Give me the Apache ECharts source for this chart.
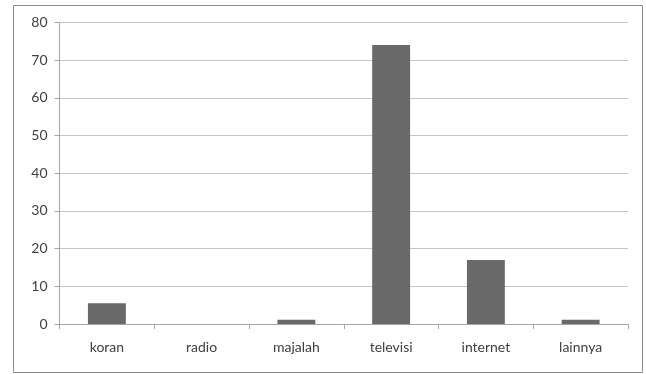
<!DOCTYPE html>
<html>
<head>
<meta charset="utf-8">
<script src="https://cdn.jsdelivr.net/npm/echarts@6/dist/echarts.min.js"></script>
<style>
  html, body { margin: 0; padding: 0; background: #ffffff; }
  #chart { width: 646px; height: 374px; }
</style>
</head>
<body>
<div id="chart"></div>
<script>
// Media categories and their percentages
var categories = ['koran', 'radio', 'majalah', 'televisi', 'internet', 'lainnya'];
var values = [5.5, 0, 1.1, 74.0, 17.0, 1.1];
var yTicks = { min: 0, max: 80, interval: 10 };

var chart = echarts.init(document.getElementById('chart'), null, { renderer: 'canvas' });

var textStyle = { color: '#404040', fontFamily: 'Lato, "Open Sans", sans-serif', fontSize: 14 };

chart.setOption({
  animation: false,
  backgroundColor: '#ffffff',
  graphic: [{
    type: 'rect',
    shape: { x: 13.5, y: 5.5, width: 629, height: 367 },
    style: { fill: 'none', stroke: '#8c8c8c', lineWidth: 1 },
    z: 0
  }],
  grid: { left: 59.5, right: 18, top: 22.5, bottom: 50, containLabel: false },
  xAxis: {
    type: 'category',
    data: categories,
    boundaryGap: true,
    axisLine: { lineStyle: { color: '#a6a6a6', width: 1 } },
    axisTick: { show: true, length: 5, lineStyle: { color: '#a6a6a6' } },
    axisLabel: Object.assign({ margin: 16 }, textStyle),
    splitLine: { show: false }
  },
  yAxis: {
    type: 'value',
    min: yTicks.min,
    max: yTicks.max,
    interval: yTicks.interval,
    axisLine: { show: true, lineStyle: { color: '#a6a6a6', width: 1 } },
    axisTick: { show: true, length: 5, lineStyle: { color: '#a6a6a6' } },
    axisLabel: Object.assign({ margin: 12 }, textStyle),
    splitLine: { show: true, lineStyle: { color: '#c4c4c4', width: 1 } }
  },
  series: [{
    type: 'bar',
    data: values,
    barWidth: '40%',
    itemStyle: { color: '#696969' }
  }]
});
</script>
</body>
</html>
